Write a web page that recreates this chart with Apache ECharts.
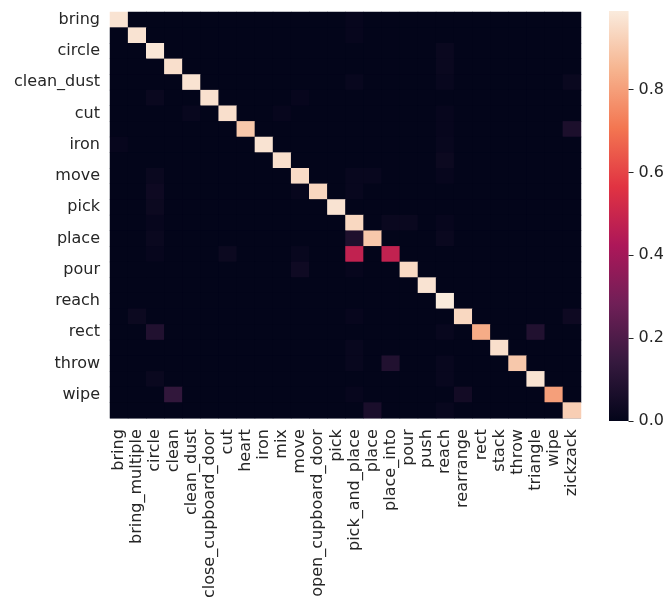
<!DOCTYPE html>
<html>
<head>
<meta charset="utf-8">
<script src="https://cdn.jsdelivr.net/npm/echarts@6/dist/echarts.min.js"></script>
<style>
  html, body { margin: 0; padding: 0; background: #ffffff; }
  #chart { width: 667px; height: 601px; }
</style>
</head>
<body>
<div id="chart"></div>
<script>
// Action classes (true label = row, predicted label = column)
const classes = [
  'bring', 'bring_multiple', 'circle', 'clean', 'clean_dust', 'close_cupboard_door',
  'cut', 'heart', 'iron', 'mix', 'move', 'open_cupboard_door', 'pick', 'pick_and_place',
  'place', 'place_into', 'pour', 'push', 'reach', 'rearrange', 'rect', 'stack',
  'throw', 'triangle', 'wipe', 'zickzack'
];

// Normalized share of each class predicted as itself
const diagonal = [
  0.97, 0.97, 0.98, 0.96, 0.97, 0.965, 0.96, 0.90, 0.97, 0.96, 0.95, 0.935, 0.97,
  0.94, 0.90, 0.48, 0.945, 0.97, 0.99, 0.94, 0.83, 0.96, 0.90, 0.97, 0.80, 0.915
];

// Misclassifications: [true row, predicted column, share]
const confusions = [
  [0, 13, 0.01], [1, 13, 0.01], [2, 18, 0.02], [3, 18, 0.02],
  [4, 13, 0.015], [4, 18, 0.015], [4, 25, 0.02],
  [5, 2, 0.02], [5, 10, 0.01],
  [6, 4, 0.015], [6, 9, 0.01], [6, 18, 0.01],
  [7, 25, 0.07], [7, 18, 0.01],
  [8, 0, 0.01], [8, 18, 0.015],
  [9, 18, 0.025],
  [10, 2, 0.02], [10, 13, 0.015], [10, 14, 0.015], [10, 18, 0.01],
  [11, 2, 0.03], [11, 10, 0.01], [11, 13, 0.015],
  [12, 2, 0.025],
  [13, 2, 0.01], [13, 15, 0.02], [13, 16, 0.02], [13, 18, 0.01],
  [14, 2, 0.02], [14, 13, 0.075], [14, 18, 0.02],
  [15, 2, 0.01], [15, 6, 0.025], [15, 10, 0.015], [15, 13, 0.48],
  [16, 10, 0.035], [16, 13, 0.01],
  [19, 1, 0.025], [19, 25, 0.03], [19, 13, 0.01],
  [20, 2, 0.085], [20, 23, 0.085], [20, 18, 0.015],
  [21, 13, 0.015],
  [22, 15, 0.085], [22, 13, 0.015], [22, 18, 0.015],
  [23, 2, 0.02], [23, 18, 0.015],
  [24, 3, 0.13], [24, 19, 0.045], [24, 13, 0.01],
  [25, 14, 0.065], [25, 18, 0.015]
];

// Colorbar ticks
const colorbarTicks = [0, 0.2, 0.4, 0.6, 0.8];

// "rocket" colormap stops
const rocket = ['#03051a', '#35193e', '#701f57', '#ad1759', '#e13342', '#f37651', '#f6b48f', '#faebdd'];

// Full matrix: zero everywhere except listed entries
const matrix = classes.map(() => classes.map(() => 0));
diagonal.forEach((v, i) => { matrix[i][i] = v; });
confusions.forEach(([r, c, v]) => { matrix[r][c] = v; });

const cells = [];
matrix.forEach((row, r) => row.forEach((v, c) => cells.push([c, r, v])));

const vmax = Math.max(...cells.map(d => d[2]));
const textColor = '#262626';
const font = 'DejaVu Sans';
const fontSize = 16;

// Colorbar fill: the same colormap stops, bottom (0) to top (vmax)
const barFill = new echarts.graphic.LinearGradient(0, 1, 0, 0,
  rocket.map((color, i) => ({ offset: i / (rocket.length - 1), color })));

const chart = echarts.init(document.getElementById('chart'), null, { renderer: 'canvas' });
chart.setOption({
  animation: false,
  backgroundColor: '#ffffff',
  textStyle: { fontFamily: font, color: textColor },
  grid: [
    // dark backing hides sub-pixel seams between cells
    { left: 110, top: 12, width: 471, height: 409, show: true, backgroundColor: rocket[0], borderWidth: 0 },
    // colorbar
    { left: 609, top: 11, width: 21, height: 410, show: true, backgroundColor: barFill, borderWidth: 0 }
  ],
  xAxis: [
    {
      type: 'category', gridIndex: 0, data: classes,
      axisLine: { show: false }, axisTick: { show: false },
      splitLine: { show: false }, splitArea: { show: false },
      axisLabel: { rotate: 90, interval: 0, margin: 11, fontSize: fontSize, fontFamily: font, color: textColor }
    },
    { type: 'value', gridIndex: 1, show: false, min: 0, max: 1 }
  ],
  yAxis: [
    {
      type: 'category', gridIndex: 0, data: classes, inverse: true,
      axisLine: { show: false }, axisTick: { show: false },
      splitLine: { show: false }, splitArea: { show: false },
      axisLabel: { interval: 1, margin: 10, fontSize: fontSize, fontFamily: font, color: textColor }
    },
    {
      type: 'value', gridIndex: 1, position: 'right', min: 0, max: vmax, z: 10,
      splitLine: { show: false },
      axisLine: { show: false, onZero: false },
      axisTick: { show: true, inside: false, length: 5, customValues: colorbarTicks, lineStyle: { color: textColor, width: 1 } },
      axisLabel: {
        customValues: colorbarTicks, margin: 10, fontSize: fontSize, fontFamily: font, color: textColor,
        formatter: v => v.toFixed(1)
      }
    }
  ],
  visualMap: {
    type: 'continuous',
    show: false,
    min: 0, max: vmax,
    dimension: 2,
    seriesIndex: 0,
    inRange: { color: rocket }
  },
  series: [{
    type: 'heatmap',
    xAxisIndex: 0, yAxisIndex: 0,
    data: cells,
    itemStyle: { borderWidth: 0 },
    emphasis: { disabled: true },
    progressive: 0
  }]
});
</script>
</body>
</html>
